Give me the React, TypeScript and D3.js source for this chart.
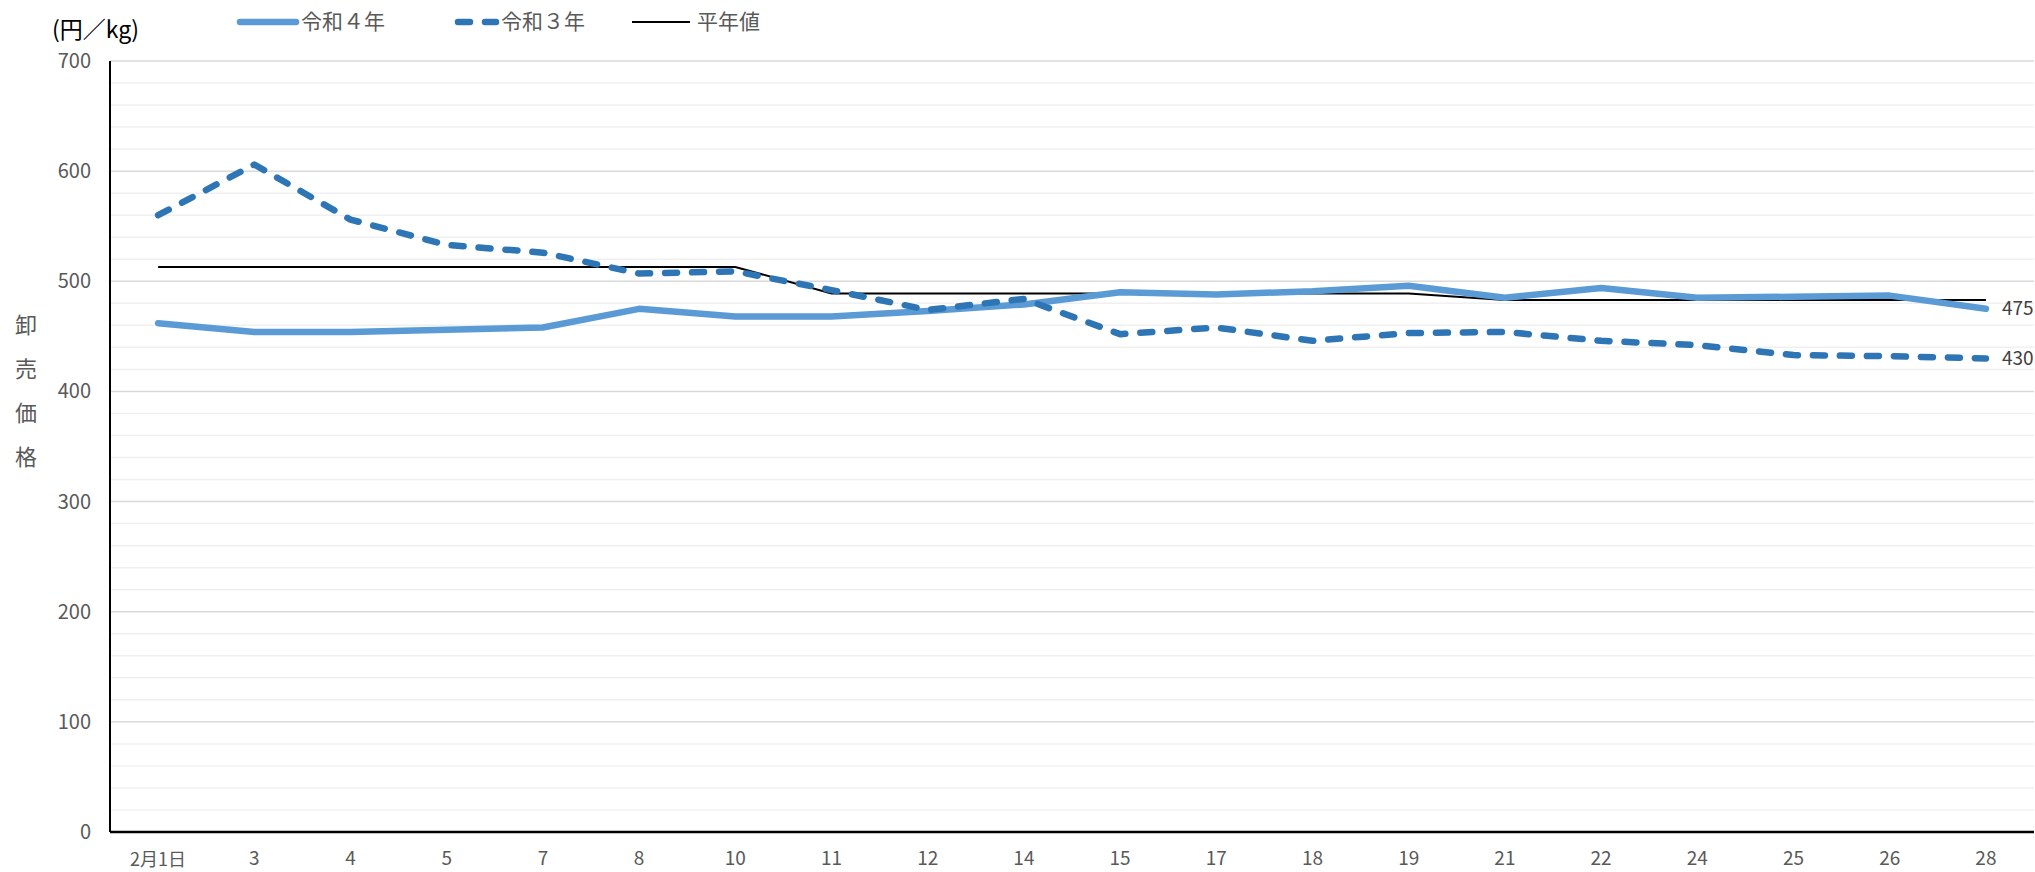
import { useEffect, useRef } from 'react';
import * as d3 from 'd3';

// 2月の日別卸売価格（円／kg）
const categories = ['2月1日', '3', '4', '5', '7', '8', '10', '11', '12', '14', '15', '17', '18', '19', '21', '22', '24', '25', '26', '28'];
const r4Values = [462, 454, 454, 456, 458, 475, 468, 468, 473, 479, 490, 488, 491, 496, 485, 494, 485, 486, 487, 475];
const r3Values = [560, 606, 556, 533, 526, 507, 509, 492, 474, 484, 452, 458, 446, 453, 454, 446, 442, 433, 432, 430];
const avgValues = [513, 513, 513, 513, 513, 513, 513, 489, 489, 489, 489, 489, 489, 489, 483, 483, 483, 483, 483, 483];
const yTicks = [0, 100, 200, 300, 400, 500, 600, 700];
const minorTicks = d3.range(0, 701, 20);
const legendNames = ['令和４年', '令和３年', '平年値'];

const FONT = '"Noto Sans CJK JP", "Noto Sans", sans-serif';
const GREY_TEXT = '#595959';
const R4_COLOR = '#5B9BD5';
const R3_COLOR = '#2E75B6';

export default function App() {
  const svgRef = useRef<SVGSVGElement>(null);

  useEffect(() => {
    if (!svgRef.current) return;
    const width = 2035;
    const height = 872;
    const plot = { left: 110, right: 2034, top: 61, bottom: 832 };

    const svg = d3.select(svgRef.current);
    svg.selectAll('*').remove();
    svg.attr('width', width).attr('height', height);

    svg.append('rect').attr('width', width).attr('height', height).attr('fill', '#fff');

    const x = d3.scalePoint<string>().domain(categories).range([plot.left, plot.right]).padding(0.5);
    const y = d3.scaleLinear().domain([0, 700]).range([plot.bottom, plot.top]);

    // minor grid
    svg.append('g')
      .selectAll('line')
      .data(minorTicks.filter((d) => d % 100 !== 0))
      .enter()
      .append('line')
      .attr('x1', plot.left)
      .attr('x2', plot.right)
      .attr('y1', (d) => y(d))
      .attr('y2', (d) => y(d))
      .attr('stroke', '#f0f0f0')
      .attr('stroke-width', 1.5);

    // major grid
    svg.append('g')
      .selectAll('line')
      .data(yTicks.filter((d) => d > 0))
      .enter()
      .append('line')
      .attr('x1', plot.left)
      .attr('x2', plot.right)
      .attr('y1', (d) => y(d))
      .attr('y2', (d) => y(d))
      .attr('stroke', '#d9d9d9')
      .attr('stroke-width', 1.5);

    // y tick labels
    svg.append('g')
      .selectAll('text')
      .data(yTicks)
      .enter()
      .append('text')
      .attr('x', 91)
      .attr('y', (d) => y(d))
      .attr('dy', '0.35em')
      .attr('text-anchor', 'end')
      .attr('font-family', FONT)
      .attr('font-size', 20)
      .attr('fill', GREY_TEXT)
      .text((d) => d);

    // x tick labels
    svg.append('g')
      .selectAll('text')
      .data(categories)
      .enter()
      .append('text')
      .attr('x', (d) => x(d) as number)
      .attr('y', (d, i) => (i === 0 ? 860 : 858))
      .attr('dy', '0.35em')
      .attr('text-anchor', 'middle')
      .attr('font-family', FONT)
      .attr('font-size', (d, i) => (i === 0 ? 18 : 19))
      .attr('fill', GREY_TEXT)
      .text((d) => d);

    const line = d3
      .line<number>()
      .x((d, i) => x(categories[i]) as number)
      .y((d) => y(d));

    // 平年値
    svg.append('path')
      .datum(avgValues)
      .attr('fill', 'none')
      .attr('stroke', '#000')
      .attr('stroke-width', 2)
      .attr('d', line);

    // 令和4年
    svg.append('path')
      .datum(r4Values)
      .attr('fill', 'none')
      .attr('stroke', R4_COLOR)
      .attr('stroke-width', 6.5)
      .attr('stroke-linejoin', 'round')
      .attr('stroke-linecap', 'round')
      .attr('d', line);

    // 令和3年
    svg.append('path')
      .datum(r3Values)
      .attr('fill', 'none')
      .attr('stroke', R3_COLOR)
      .attr('stroke-width', 6.5)
      .attr('stroke-dasharray', '12 15')
      .attr('stroke-linecap', 'round')
      .attr('stroke-linejoin', 'round')
      .attr('d', line);

    // end labels
    const last = categories.length - 1;
    [r4Values[last], r3Values[last]].forEach((v) => {
      svg.append('text')
        .attr('x', (x(categories[last]) as number) + 16)
        .attr('y', y(v))
        .attr('dy', '0.35em')
        .attr('font-family', FONT)
        .attr('font-size', 19)
        .attr('fill', '#404040')
        .text(v);
    });

    // axes
    svg.append('line')
      .attr('x1', plot.left).attr('x2', plot.left)
      .attr('y1', plot.top).attr('y2', plot.bottom)
      .attr('stroke', '#000').attr('stroke-width', 2);
    svg.append('line')
      .attr('x1', plot.left).attr('x2', plot.right)
      .attr('y1', plot.bottom).attr('y2', plot.bottom)
      .attr('stroke', '#000').attr('stroke-width', 2.5);

    // unit label
    svg.append('text')
      .attr('x', 52)
      .attr('y', 30)
      .attr('dy', '0.35em')
      .attr('font-family', FONT)
      .attr('font-size', 23)
      .attr('fill', '#000')
      .text('(円／kg)');

    // y axis title, stacked
    const title = '卸売価格';
    svg.append('g')
      .selectAll('text')
      .data(title.split(''))
      .enter()
      .append('text')
      .attr('x', 26)
      .attr('y', (d, i) => 325 + i * 44)
      .attr('dy', '0.35em')
      .attr('text-anchor', 'middle')
      .attr('font-family', FONT)
      .attr('font-size', 22)
      .attr('fill', GREY_TEXT)
      .text((d) => d);

    // legend
    const legend = svg.append('g').attr('transform', 'translate(0,22)');
    const items = [
      { x1: 240, x2: 296, tx: 301, color: R4_COLOR, w: 6.5, dash: null as string | null },
      { x1: 458, x2: 496, tx: 501, color: R3_COLOR, w: 6.5, dash: '12 15' },
      { x1: 632, x2: 690, tx: 697, color: '#000', w: 2, dash: null },
    ];
    items.forEach((it, i) => {
      const l = legend.append('line')
        .attr('x1', it.x1).attr('x2', it.x2)
        .attr('y1', 0).attr('y2', 0)
        .attr('stroke', it.color)
        .attr('stroke-width', it.w)
        .attr('stroke-linecap', it.w > 3 ? 'round' : 'butt');
      if (it.dash) l.attr('stroke-dasharray', it.dash);
      legend.append('text')
        .attr('x', it.tx)
        .attr('y', 0)
        .attr('dy', '0.35em')
        .attr('font-family', FONT)
        .attr('font-size', 21)
        .attr('fill', GREY_TEXT)
        .text(legendNames[i]);
    });
  }, []);

  return <svg ref={svgRef} style={{ position: 'absolute', left: 0, top: 0, display: 'block' }} />;
}
